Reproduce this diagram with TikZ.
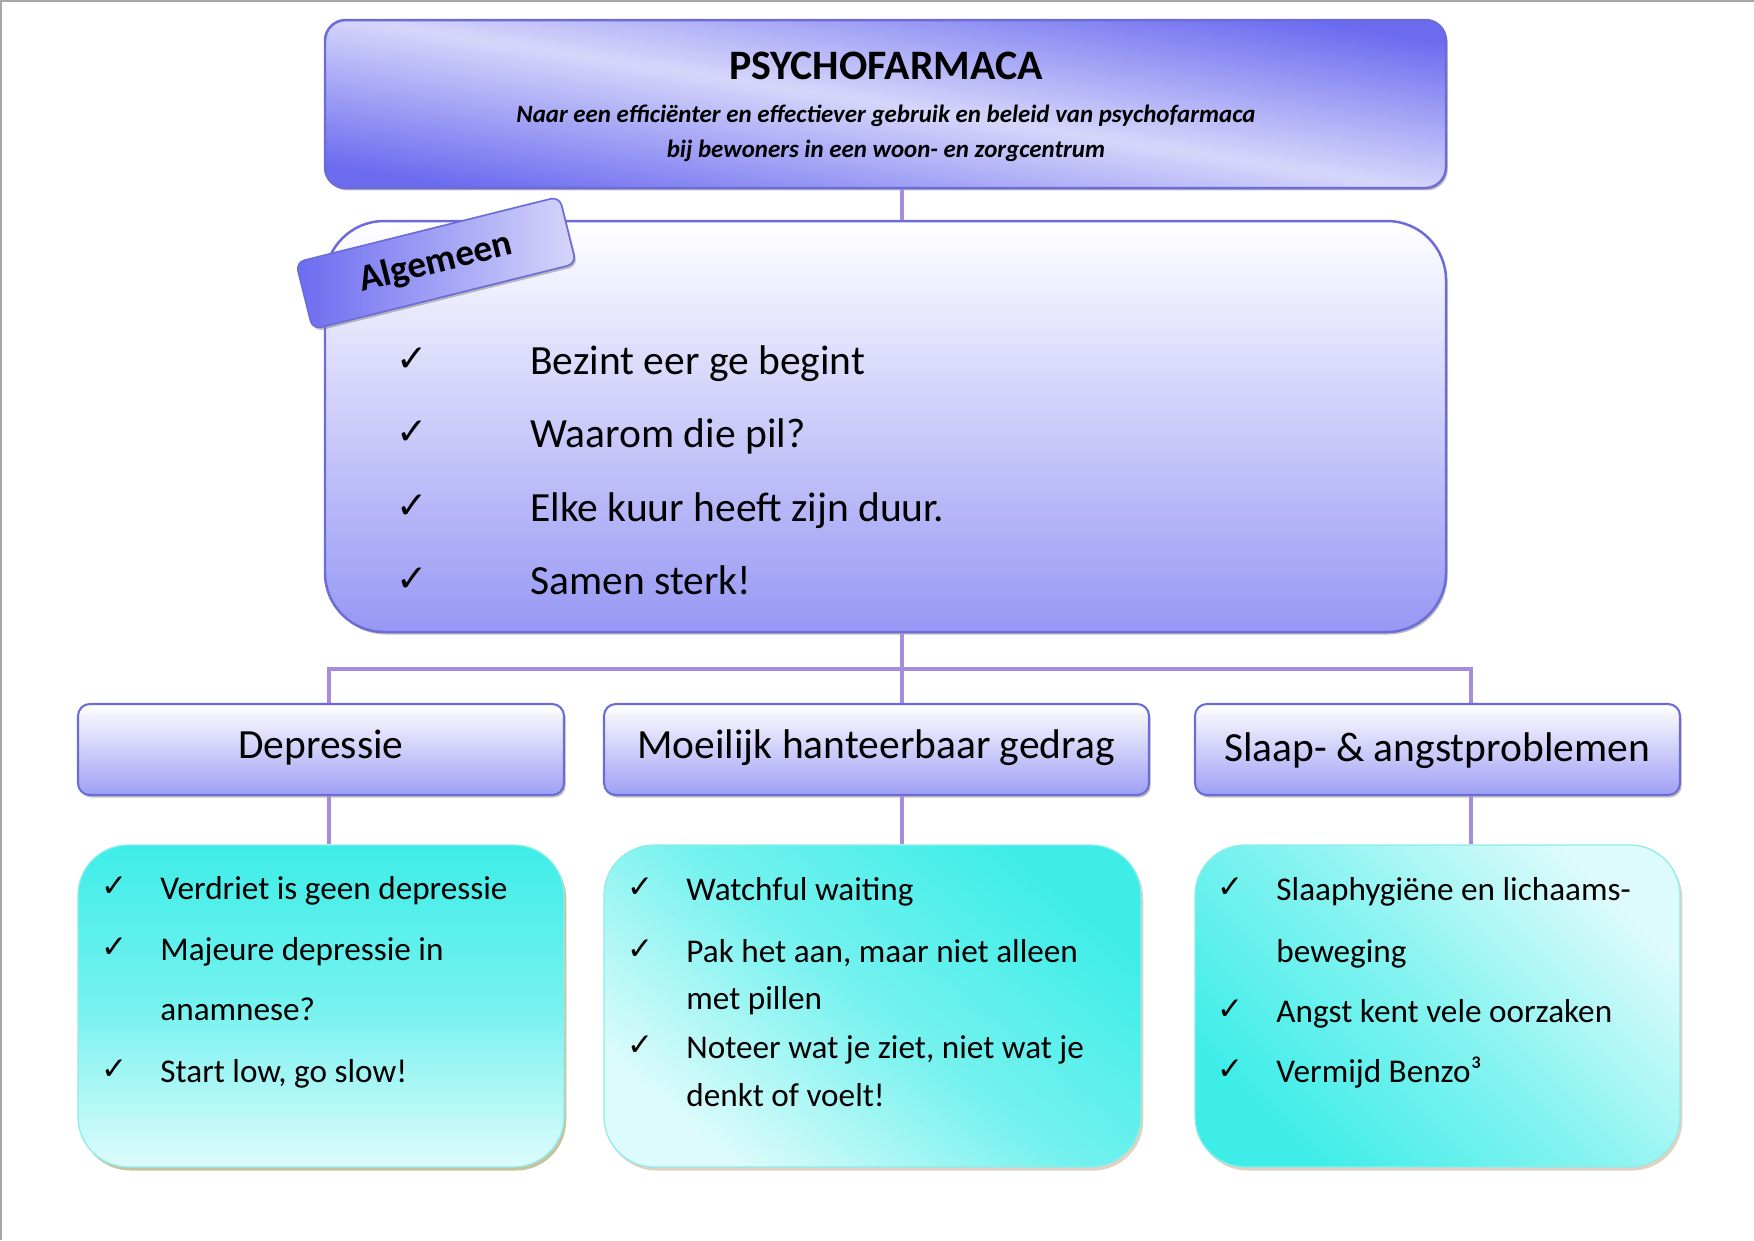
\documentclass[tikz,border=0pt]{standalone}
\usepackage{fontspec}
\setmainfont{Carlito}
\newfontfamily\tickfont{DejaVu Sans}
\usetikzlibrary{positioning,fit,shadows}
\definecolor{PFBlue}{HTML}{6B6BF0}
\definecolor{PFLight}{HTML}{D6D6FB}
\definecolor{PFEdge}{HTML}{6C6CD8}
\definecolor{PFLink}{HTML}{A68CDB}
\definecolor{PFCyan}{HTML}{3EEDE8}
\definecolor{PFCyanLight}{HTML}{DDFBFB}
\definecolor{PFCyanEdge}{HTML}{8CEDEA}
\definecolor{PFOlive}{HTML}{8E8A3E}
\definecolor{PFTan}{HTML}{C4A486}
\definecolor{PFFrame}{HTML}{A8A8A8}
\tikzset{
  link/.style={PFLink,line width=1.8pt},
  headbox/.style={draw=PFEdge,line width=1.2pt,rounded corners=3.5mm,inner sep=0pt,
    top color=PFBlue,bottom color=PFBlue,middle color=PFLight,shading angle=-9,
    drop shadow={shadow xshift=.8pt,shadow yshift=-1.2pt,fill=black!50,opacity=.5}},
  mainbox/.style={draw=PFEdge,line width=1.2pt,rounded corners=10mm,inner sep=0pt,
    top color=white,bottom color=PFBlue!70,
    drop shadow={shadow xshift=.8pt,shadow yshift=-1.2pt,fill=black!50,opacity=.5}},
  catbox/.style={draw=PFEdge,line width=1pt,rounded corners=2mm,inner sep=0pt,
    top color=white,bottom color=PFBlue!65,
    drop shadow={shadow xshift=.8pt,shadow yshift=-1.2pt,fill=black!50,opacity=.5}},
  notebox/.style={draw=PFCyanEdge,line width=.6pt,rounded corners=8.5mm,inner sep=0pt,
    drop shadow={shadow xshift=1.1pt,shadow yshift=-1.7pt,fill=#1}},
  notebox/.default=PFTan,
  tagbox/.style={draw=PFEdge,line width=.8pt,rounded corners=1.5mm,
    left color=PFBlue,right color=PFLight,minimum width=4.6cm,minimum height=1.17cm,
    font=\bfseries\fontsize{18}{22}\selectfont,
    drop shadow={shadow xshift=.8pt,shadow yshift=-1.2pt,fill=black!50,opacity=.5}},
  titletext/.style={anchor=base,inner sep=0pt,font=\bfseries\fontsize{20.2}{24}\selectfont},
  subtext/.style={anchor=base,inner sep=0pt,font=\bfseries\itshape\fontsize{12}{14}\selectfont},
  ruletext/.style={anchor=base west,inner sep=0pt,font=\fontsize{20}{24}\selectfont},
  cattext/.style={anchor=base,inner sep=0pt,font=\fontsize{20}{24}\selectfont},
  itemtext/.style={anchor=base west,inner sep=0pt,font=\fontsize{16}{19}\selectfont},
  tick/.style={anchor=base west,inner sep=0pt,font=\tickfont\fontsize{15}{18}\selectfont},
  bigtick/.style={tick,font=\tickfont\fontsize{18}{21}\selectfont},
}
\begin{document}
\begin{tikzpicture}[x=0.016933cm,y=-0.016933cm]
  \useasboundingbox (0,0) rectangle (1754,1240);
  \draw[PFFrame,line width=1.2pt] (1,1240) -- (1,1) -- (1754,1);

  % --- header ---
  \node[headbox,fit={(325,20) (1446,188)}] (head) {};
  \node[titletext] (title) at (886,79) {PSYCHOFARMACA};
  \node[subtext] (sub1) at (886,122) {Naar een efficiënter en effectiever gebruik en beleid van psychofarmaca};
  \node[subtext] (sub2) at (886,157) {bij bewoners in een woon- en zorgcentrum};

  % --- general rules ---
  \coordinate (spine) at (902,669);
  \coordinate (busL) at (329,669);
  \coordinate (busR) at (1471,669);
  \node[mainbox,fit={(325,221) (1446,632)}] (main) {};
  \draw[link] (head.south -| spine) -- (main.north -| spine);
  \node[tagbox,rotate=14] (tag) at (436,263) {Algemeen};
  \foreach \yy/\txt [count=\i] in {374/Bezint eer ge begint, 447/Waarom die pil?,
      521/Elke kuur heeft zijn duur., 594/Samen sterk!}{
    \node[bigtick] (mck\i) at (396,\yy-3) {✓};
    \node[ruletext] (mrule\i) at (530,\yy) {\txt};
  }

  % --- three themes ---
  \node[catbox,fit={(78,704) (564,795)}] (dep) {};
  \node[catbox,fit={(604,704) (1149,795)}] (moe) {};
  \node[catbox,fit={(1195,704) (1680,795)}] (slp) {};
  \node[cattext] (deptxt) at (321,758) {Depressie};
  \node[cattext] (moetxt) at (876,758) {Moeilijk hanteerbaar gedrag};
  \node[cattext] (slptxt) at (1437,761) {Slaap- \& angstproblemen};
  \draw[link] (main.south -| spine) -- (moe.north -| spine);
  \draw[link] (dep.north -| busL) -- (busL) -- (busR) -- (slp.north -| busR);

  % --- notes per theme ---
  \node[notebox=PFOlive,top color=PFCyan,bottom color=PFCyanLight,
    middle color=PFCyan!65!PFCyanLight,fit={(78,845) (564,1167)}] (depnote) {};
  \node[notebox,top color=PFCyan,bottom color=PFCyanLight,
    middle color=PFCyan!65!PFCyanLight,shading angle=-40,
    fit={(604,845) (1141,1167)}] (moenote) {};
  \node[notebox,top color=PFCyanLight,bottom color=PFCyan,
    middle color=PFCyan!55!PFCyanLight,shading angle=-45,
    fit={(1195,845) (1680,1167)}] (slpnote) {};
  \draw[link] (dep.south -| busL) -- (depnote.north -| busL);
  \draw[link] (moe.south -| spine) -- (moenote.north -| spine);
  \draw[link] (slp.south -| busR) -- (slpnote.north -| busR);

  \foreach \yy/\txt [count=\i] in {899/Verdriet is geen depressie, 960/Majeure depressie in,
      1020/anamnese?, 1082/{Start low, go slow!}}
    \node[itemtext] (dn\i) at (160,\yy) {\txt};
  \foreach \yy [count=\i] in {896,957,1079}
    \node[tick] (dck\i) at (101,\yy) {✓};

  \foreach \yy/\txt [count=\i] in {900/Watchful waiting, 962/{Pak het aan, maar niet alleen},
      1009/met pillen, 1058/{Noteer wat je ziet, niet wat je}, 1106/denkt of voelt!}
    \node[itemtext] (mn\i) at (686,\yy) {\txt};
  \foreach \yy [count=\i] in {897,959,1055}
    \node[tick] (mck\i) at (627,\yy) {✓};

  \foreach \yy/\txt [count=\i] in {900/Slaaphygiëne en lichaams-, 962/beweging,
      1022/Angst kent vele oorzaken, 1082/Vermijd Benzo³}
    \node[itemtext] (sn\i) at (1276,\yy) {\txt};
  \foreach \yy [count=\i] in {897,1019,1079}
    \node[tick] (sck\i) at (1217,\yy) {✓};
\end{tikzpicture}
\end{document}
